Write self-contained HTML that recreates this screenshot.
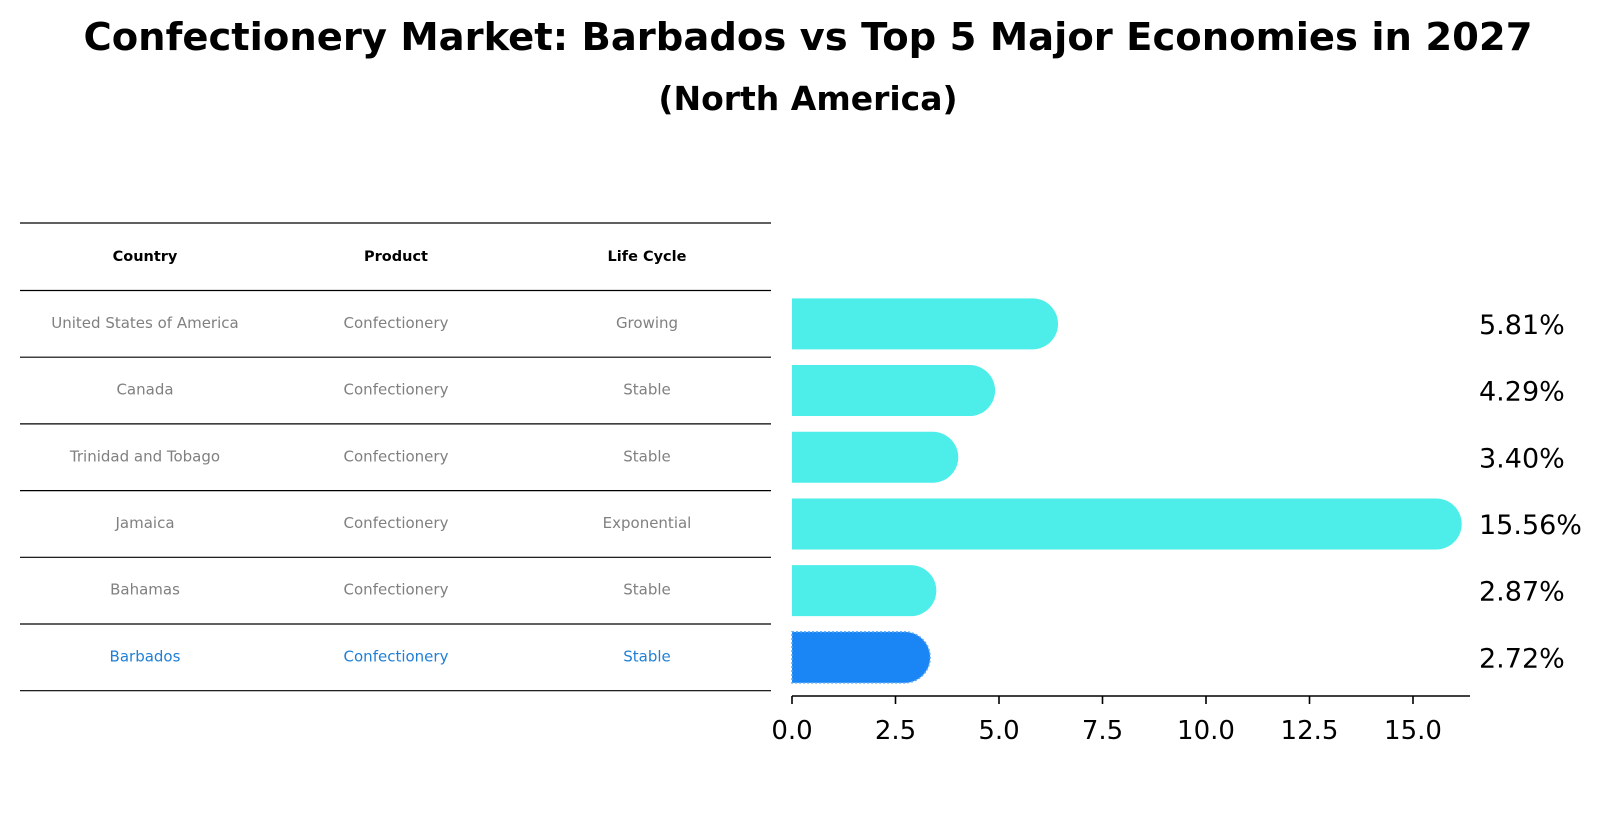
<!DOCTYPE html>
<html><head><meta charset="utf-8"><style>
body{margin:0;background:#fff;}
svg{display:block;font-family:"DejaVu Sans","Liberation Sans",sans-serif;}
</style></head><body>
<svg id="chart" width="1604" height="823" viewBox="0 0 1604 823">
<text x="808" y="50" text-anchor="middle" font-size="38.5" font-weight="bold">Confectionery Market: Barbados vs Top 5 Major Economies in 2027</text>
<text x="808" y="110" text-anchor="middle" font-size="33" font-weight="bold">(North America)</text>
<g id="table"></g>
<g id="bars"></g>
</svg>
<script>
const countries = ["United States of America","Canada","Trinidad and Tobago","Jamaica","Bahamas","Barbados"];
const products = ["Confectionery","Confectionery","Confectionery","Confectionery","Confectionery","Confectionery"];
const lifeCycles = ["Growing","Stable","Stable","Exponential","Stable","Stable"];
const values = [5.81,4.29,3.40,15.56,2.87,2.72];
const tickValues = [0,2.5,5,7.5,10,12.5,15];
const tickLabels = ["0.0","2.5","5.0","7.5","10.0","12.5","15.0"];

const NS="http://www.w3.org/2000/svg";
function mk(tag,attrs,parent){const e=document.createElementNS(NS,tag);for(const k in attrs)e.setAttribute(k,attrs[k]);parent.appendChild(e);return e;}
const x0=792, pxPerUnit=41.4;
function xs(v){return x0+v*pxPerUnit;}
const rowTop=290.5, rowH=66.7;
function yc(i){return rowTop+rowH*i+rowH/2;}

// table
const tbl=document.getElementById('table');
const colX=[145,396,647];
const lineYs=[223];
for(let i=0;i<=countries.length;i++)lineYs.push(rowTop+rowH*i);
lineYs.forEach((y,i)=>{
  const l=mk('line',{x1:20,x2:771,y1:y,y2:y,stroke:'#000','stroke-width':1.2},tbl);
  
  
});
const heads=["Country","Product","Life Cycle"];
heads.forEach((h,j)=>{
  const t=mk('text',{x:colX[j],y:261,'text-anchor':'middle','font-size':14.5,'font-weight':'bold'},tbl);
  t.textContent=h;
  
  
});
countries.forEach((c,i)=>{
  const col=i===countries.length-1?'#1f7fd6':'#808080';
  [c,products[i],lifeCycles[i]].forEach((s,j)=>{
    const t=mk('text',{x:colX[j],y:rowTop+rowH*i+rowH/2+4,'text-anchor':'middle','font-size':15,fill:col,'textLength':null},tbl);
    t.removeAttribute('textLength');
    t.textContent=s;
    
    
  });
});

// bars
const g=document.getElementById('bars');
const barH=51, r=barH/2;
values.forEach((v,i)=>{
  const cy=yc(i);
  const hl=i===values.length-1;
  const fill=hl?'#1a85f5':'#4deeea';
  const xe=xs(v);
  const d=`M${x0},${cy-r} L${xe},${cy-r} A${r},${r} 0 0 1 ${xe},${cy+r} L${x0},${cy+r} Z`;
  const p=mk('path',{d:d,fill:fill},g);
  if(hl){p.setAttribute('stroke','#5aa8f8');p.setAttribute('stroke-width','1.5');p.setAttribute('stroke-dasharray','2 2');}
  
  
  const t=mk('text',{x:1479,y:cy+10,'font-size':27,fill:'#000'},g);
  t.textContent=v.toFixed(2)+'%';
  
  
});
// axis
const ax=mk('line',{x1:x0,x2:1470,y1:696,y2:696,stroke:'#000','stroke-width':1.6},g);


tickValues.forEach((v,i)=>{
  const tk=mk('line',{x1:xs(v),x2:xs(v),y1:696,y2:704,stroke:'#000','stroke-width':1.6},g);
  
  
  const t=mk('text',{x:xs(v),y:739,'text-anchor':'middle','font-size':26,fill:'#000'},g);
  t.textContent=tickLabels[i];
  
  
});
</script>
</body></html>
